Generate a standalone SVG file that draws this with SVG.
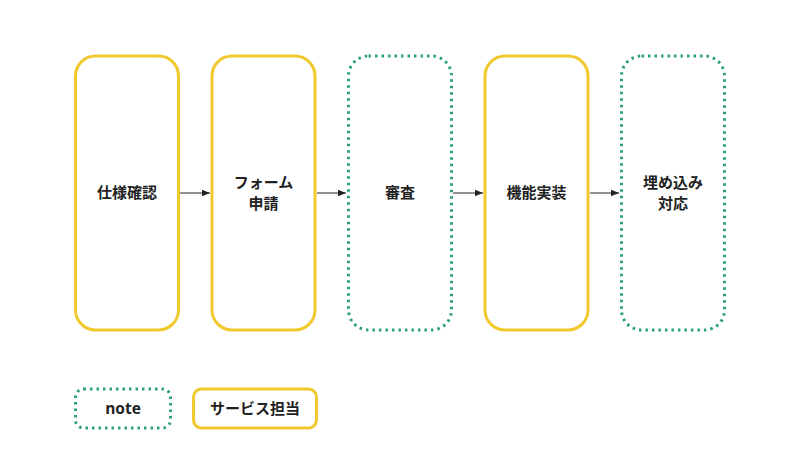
<svg xmlns="http://www.w3.org/2000/svg" width="800" height="450" viewBox="0 0 800 450">
<style>
.svc{fill:#fff;stroke:#F0C92F;stroke-width:3}
.note{fill:#fff;stroke:#2E9E82;stroke-width:3;stroke-dasharray:2.5 4;stroke-linecap:butt}
text{font-family:"Open Sans","Noto Sans CJK JP",sans-serif;font-weight:bold;font-size:15px;fill:#222;text-anchor:middle;dominant-baseline:central}
.conn{stroke:#222;stroke-width:1;fill:none}
</style>
<defs>
<marker id="ah" viewBox="0 0 10 10" refX="10" refY="5" markerWidth="8" markerHeight="8" markerUnits="userSpaceOnUse" orient="auto">
<path d="M0,1 L10,5 L0,9 z" fill="#222"/>
</marker>
</defs>
<g id="connectors">
<line class="conn" x1="180" y1="193" x2="210" y2="193" marker-end="url(#ah)"/>
<line class="conn" x1="317" y1="193" x2="346" y2="193" marker-end="url(#ah)"/>
<line class="conn" x1="453" y1="193" x2="483" y2="193" marker-end="url(#ah)"/>
<line class="conn" x1="590" y1="193" x2="619" y2="193" marker-end="url(#ah)"/>
</g>
<g id="n1"><rect class="svc" x="75.5" y="56" width="103" height="274" rx="20"/><text x="127" y="192">仕様確認</text></g>
<g id="n2"><rect class="svc" x="212" y="56" width="103" height="274" rx="20"/><text x="263.5" y="182">フォーム</text><text x="263.5" y="203">申請</text></g>
<g id="n3"><rect class="note" x="348.5" y="56" width="103" height="274" rx="20"/><text x="400" y="192">審査</text></g>
<g id="n4"><rect class="svc" x="485" y="56" width="103" height="274" rx="20"/><text x="536.5" y="192">機能実装</text></g>
<g id="n5"><rect class="note" x="621.5" y="56" width="103" height="274" rx="20"/><text x="673" y="182">埋め込み</text><text x="673" y="203">対応</text></g>
<g id="legend-note"><rect class="note" x="75.5" y="389" width="95" height="39" rx="8"/><text x="123" y="408" style="font-size:15.5px">note</text></g>
<g id="legend-svc"><rect class="svc" x="193.5" y="389" width="123" height="39" rx="8"/><text x="255" y="408">サービス担当</text></g>
</svg>
